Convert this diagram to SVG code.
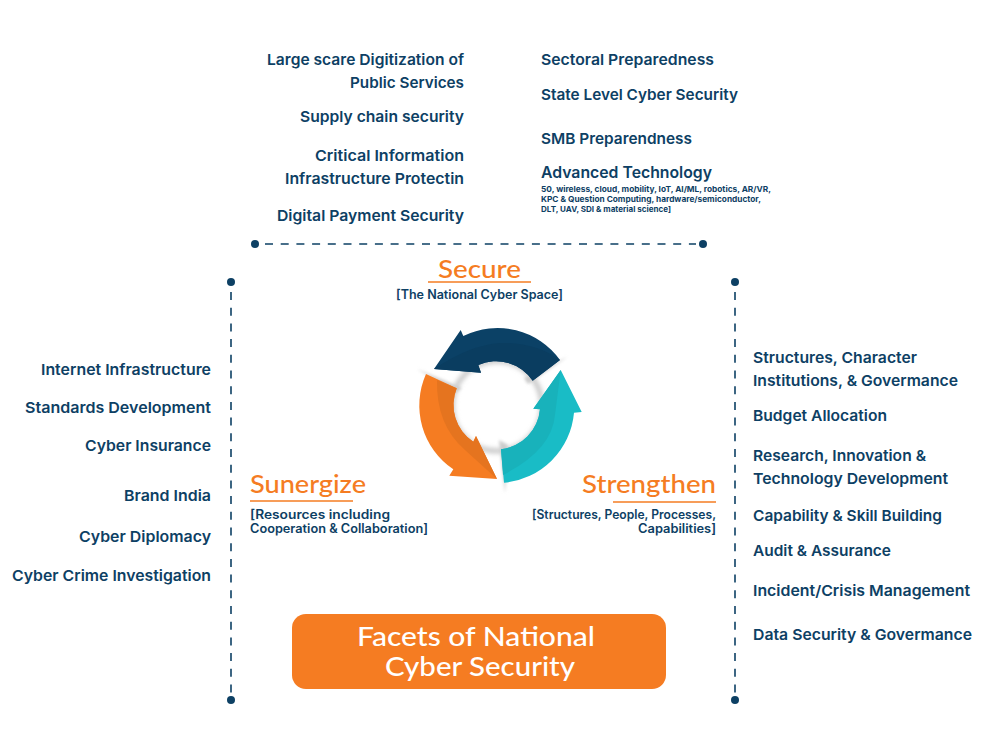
<svg xmlns="http://www.w3.org/2000/svg" width="1000" height="751" viewBox="0 0 1000 751">
<style>
text{font-family:"Inter","Noto Sans","Liberation Sans",sans-serif;fill:#0d4064;font-weight:600;font-size:15px}
.t{font-size:16px}
.s{font-size:8px;font-weight:700}
.b{font-size:12.5px}
.h{font-family:"Lato","Noto Sans",sans-serif;fill:#f57c22;font-size:25px;font-weight:500}
.w{font-family:"Lato","Noto Sans",sans-serif;fill:#fff;font-size:27px;font-weight:500}
.d{stroke:#0d4064;stroke-width:1.6;stroke-dasharray:8 7.7;fill:none}
.u{stroke:#f57c22;stroke-width:1.6;fill:none}
.dot{fill:#0d4064}
</style>
<defs>
<filter id="bl" x="-30%" y="-30%" width="160%" height="160%"><feGaussianBlur stdDeviation="2.5"/></filter>
<filter id="bl2" x="-30%" y="-30%" width="160%" height="160%"><feGaussianBlur stdDeviation="1.5"/></filter>
</defs>
<rect width="1000" height="751" fill="#fff"/>
<g id="connectors">
<path class="d" d="M265 244H696"/>
<path class="d" d="M231 292V694"/>
<path class="d" d="M735 292V694"/>
<circle class="dot" cx="255" cy="244" r="4"/>
<circle class="dot" cx="703" cy="244" r="4"/>
<circle class="dot" cx="231" cy="282" r="4"/>
<circle class="dot" cx="735" cy="282" r="4"/>
<circle class="dot" cx="231" cy="700" r="4"/>
<circle class="dot" cx="735" cy="700" r="4"/>
</g>
<g id="top-left">
<text x="267" y="65" textLength="197" lengthAdjust="spacingAndGlyphs">Large scare Digitization of</text>
<text x="350" y="88" textLength="114" lengthAdjust="spacingAndGlyphs">Public Services</text>
<text x="300" y="122" textLength="164" lengthAdjust="spacingAndGlyphs">Supply chain security</text>
<text x="315" y="161" textLength="149" lengthAdjust="spacingAndGlyphs">Critical Information</text>
<text x="285" y="184" textLength="179" lengthAdjust="spacingAndGlyphs">Infrastructure Protectin</text>
<text x="277" y="221" textLength="187" lengthAdjust="spacingAndGlyphs">Digital Payment Security</text>
</g>
<g id="top-right">
<text x="541" y="65" textLength="173" lengthAdjust="spacingAndGlyphs">Sectoral Preparedness</text>
<text x="541" y="100" textLength="197" lengthAdjust="spacingAndGlyphs">State Level Cyber Security</text>
<text x="541" y="144" textLength="151" lengthAdjust="spacingAndGlyphs">SMB Preparendness</text>
<text class="t" x="541" y="178" textLength="171" lengthAdjust="spacingAndGlyphs">Advanced Technology</text>
<text class="s" x="541" y="192" textLength="230" lengthAdjust="spacingAndGlyphs">50, wireless, cloud, mobility, IoT, AI/ML, robotics, AR/VR,</text>
<text class="s" x="541" y="202" textLength="220" lengthAdjust="spacingAndGlyphs">KPC &amp; Question Computing, hardware/semiconductor,</text>
<text class="s" x="541" y="212" textLength="130" lengthAdjust="spacingAndGlyphs">DLT, UAV, SDI &amp; material science]</text>
</g>
<g id="left">
<text x="41" y="375" textLength="170" lengthAdjust="spacingAndGlyphs">Internet Infrastructure</text>
<text x="25" y="413" textLength="186" lengthAdjust="spacingAndGlyphs">Standards Development</text>
<text x="85" y="451" textLength="126" lengthAdjust="spacingAndGlyphs">Cyber Insurance</text>
<text x="124" y="501" textLength="87" lengthAdjust="spacingAndGlyphs">Brand India</text>
<text x="79" y="542" textLength="132" lengthAdjust="spacingAndGlyphs">Cyber Diplomacy</text>
<text x="12" y="581" textLength="199" lengthAdjust="spacingAndGlyphs">Cyber Crime Investigation</text>
</g>
<g id="right">
<text x="753" y="363" textLength="164" lengthAdjust="spacingAndGlyphs">Structures, Character</text>
<text x="753" y="386" textLength="205" lengthAdjust="spacingAndGlyphs">Institutions, &amp; Govermance</text>
<text x="753" y="421" textLength="134" lengthAdjust="spacingAndGlyphs">Budget Allocation</text>
<text x="753" y="461" textLength="173" lengthAdjust="spacingAndGlyphs">Research, Innovation &amp;</text>
<text x="753" y="484" textLength="195" lengthAdjust="spacingAndGlyphs">Technology Development</text>
<text x="753" y="521" textLength="189" lengthAdjust="spacingAndGlyphs">Capability &amp; Skill Building</text>
<text x="753" y="556" textLength="138" lengthAdjust="spacingAndGlyphs">Audit &amp; Assurance</text>
<text x="753" y="596" textLength="217" lengthAdjust="spacingAndGlyphs">Incident/Crisis Management</text>
<text x="753" y="640" textLength="219" lengthAdjust="spacingAndGlyphs">Data Security &amp; Govermance</text>
</g>
<g id="secure">
<text class="h" x="438" y="278" textLength="83" lengthAdjust="spacingAndGlyphs">Secure</text>
<path class="u" d="M428 282H531"/>
<text class="b" x="396" y="299" textLength="167" lengthAdjust="spacingAndGlyphs">[The National Cyber Space]</text>
</g>
<g id="sunergize">
<text class="h" x="250" y="493" textLength="116" lengthAdjust="spacingAndGlyphs">Sunergize</text>
<path class="u" d="M250 501H353"/>
<text class="b" x="250" y="519" textLength="140" lengthAdjust="spacingAndGlyphs">[Resources including</text>
<text class="b" x="250" y="533" textLength="178" lengthAdjust="spacingAndGlyphs">Cooperation &amp; Collaboration]</text>
</g>
<g id="strengthen">
<text class="h" x="582" y="493" textLength="134" lengthAdjust="spacingAndGlyphs">Strengthen</text>
<path class="u" d="M613 502H716"/>
<text class="b" x="532" y="519" textLength="184" lengthAdjust="spacingAndGlyphs">[Structures, People, Processes,</text>
<text class="b" x="638" y="533" textLength="78" lengthAdjust="spacingAndGlyphs">Capabilities]</text>
</g>
<g id="cycle">
<circle cx="497" cy="406" r="45" fill="none" stroke="#bbb" stroke-width="4" filter="url(#bl)"/>
<path d="M417 369L462 388L456 392Z M567 357L528 384L524 378Z M505 493L499 440L508 445Z" fill="#ccc" filter="url(#bl2)"/>
<path d="M434 369L460.7 330L463.3 336A77 77 0 0 1 560 360L532.7 380.7A44 44 0 0 0 478.3 365L481 372.7Z" fill="#0b4166"/>
<path d="M434 369Q470 345 500 343Q535 342 560 360L532.7 380.7A44 44 0 0 0 478.3 365L481 372.7Z" fill="#0a3d60"/>
<path d="M560.7 370L581.7 412L574 412.7A77 77 0 0 1 504 482.7L501 449.3A44 44 0 0 0 540 409.3L533.3 408.7Z" fill="#19bcc6"/>
<path d="M560.7 370L555 415Q552 450 503 475L501 449.3A44 44 0 0 0 540 409.3L533.3 408.7Z" fill="#18b2bb"/>
<path d="M497 479L449.3 475.7L453.3 469.3A77 77 0 0 1 426 374L456.7 388.3A44 44 0 0 0 473.3 441.7L476 436Z" fill="#f57c22"/>
<path d="M497 479L465 450Q436 425 437 380L456.7 388.3A44 44 0 0 0 473.3 441.7L476 436Z" fill="#e5741f"/>
</g>
<g id="title">
<rect x="292" y="614" width="374" height="75" rx="14" fill="#f57c22"/>
<text class="w" x="357" y="646" textLength="238" lengthAdjust="spacingAndGlyphs">Facets of National</text>
<text class="w" x="385" y="676" textLength="190" lengthAdjust="spacingAndGlyphs">Cyber Security</text>
</g>
</svg>
